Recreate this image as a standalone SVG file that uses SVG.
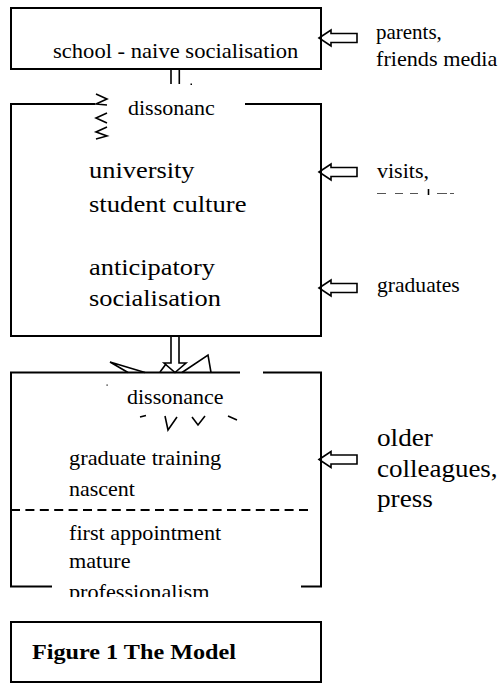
<svg xmlns="http://www.w3.org/2000/svg" width="503" height="684" viewBox="0 0 503 684">
<style>
.box{fill:none;stroke:#000;stroke-width:2}
.ln{fill:none;stroke:#000;stroke-width:1.6;stroke-linejoin:miter}
.arr{fill:#fff;stroke:#000;stroke-width:1.6;stroke-linejoin:miter}
.dash{fill:none;stroke:#000;stroke-width:2;stroke-dasharray:9 5.4}
.frag{fill:none;stroke:#555;stroke-width:1.2}
text{fill:#000}
.s{font-size:20px}
.l{font-size:24px}
.r{font-size:25px}
.b{font-size:22px;font-weight:bold}
</style>
<defs>
<clipPath id="cut"><rect x="0" y="0" width="503" height="597"/></clipPath>
</defs>
<rect width="503" height="684" fill="#fff"/>

<g id="connectors">
<path class="ln" d="M171,69 V84 M179.3,69 V84"/>
<rect x="190.5" y="83.5" width="1.5" height="1.5" fill="#000"/>
<polygon class="arr" points="171,336 179,336 179,363 186,363 175,372.5 164,363 171,363"/>
<polygon class="arr" points="319,38 331,30 331,33.5 357,33.5 357,42.5 331,42.5 331,46"/>
<polygon class="arr" points="319,172 331,164 331,167.5 357,167.5 357,176.5 331,176.5 331,180"/>
<polygon class="arr" points="319,288 331,280 331,283.5 357,283.5 357,292.5 331,292.5 331,296"/>
<polygon class="arr" points="319,459.5 331,451.5 331,455 357,455 357,464 331,464 331,467.5"/>
</g>

<g id="school" font-family="Times New Roman">
<rect class="box" x="11" y="8" width="310" height="61"/>
<text class="s" font-family="Times New Roman" transform="matrix(1.13,0,0,1,53,58)">school - naive socialisation</text>
</g>

<g id="parents">
<text class="s" font-family="Times New Roman" transform="matrix(1.05,0,0,1,376,39)">parents,</text>
<text class="s" font-family="Times New Roman" transform="matrix(1.11,0,0,1,376,66)">friends media</text>
</g>

<g id="university">
<path class="box" d="M95,104 H11 V336 H321 V104 H245"/>
<path class="ln" d="M96,94 L107,99 L96,104 L107,105 M107,113 L96,118 L107,123 M107,127 L96,132 L107,136 L96,139"/>
<text class="s" font-family="Times New Roman" transform="matrix(1.1,0,0,1,128,115)">dissonanc</text>
<text class="l" font-family="Times New Roman" transform="matrix(1.1,0,0,1,89,178)">university</text>
<text class="l" font-family="Times New Roman" transform="matrix(1.11,0,0,1,89,212)">student culture</text>
<text class="l" font-family="Times New Roman" transform="matrix(1.1,0,0,1,89,275)">anticipatory</text>
<text class="l" font-family="Times New Roman" transform="matrix(1.1,0,0,1,89,306)">socialisation</text>
</g>

<g id="visits">
<text class="s" font-family="Times New Roman" transform="matrix(1.1,0,0,1,377,178)">visits,</text>
<path class="frag" d="M377,193.5 H386 M395,193.5 H403 M410,193.5 H418 M437,193.5 H447 M450,193.5 H454"/>
<path class="ln" d="M428.5,189 V195"/>
</g>

<g id="graduates">
<text class="s" font-family="Times New Roman" transform="matrix(1.08,0,0,1,377,292)">graduates</text>
</g>

<g id="professional">
<path class="box" d="M240,372.5 H11 V586.5 H52 M301,586.5 H321 V372.5 H263"/>
<path class="ln" d="M128,372.5 L110,362 L145,372.5 M160,372 L166,364 M182,372.5 L208,355 L211,372.5"/>
<path class="ln" d="M140,417 L146,415.5 M165,416 L168,430 L177,417 M192,417 L198,425 L205,416 M228,416 L237,420"/>
<rect x="106.5" y="384.5" width="1.2" height="1.2" fill="#000"/>
<text class="s" font-family="Times New Roman" transform="matrix(1.1,0,0,1,127,404)">dissonance</text>
<text class="s" font-family="Times New Roman" transform="matrix(1.12,0,0,1,69,465)">graduate training</text>
<text class="s" font-family="Times New Roman" transform="matrix(1.1,0,0,1,69,496)">nascent</text>
<path class="dash" d="M11,510 H313"/>
<text class="s" font-family="Times New Roman" transform="matrix(1.11,0,0,1,69,540)">first appointment</text>
<text class="s" font-family="Times New Roman" transform="matrix(1.11,0,0,1,69,568)">mature</text>
<g clip-path="url(#cut)">
<text class="s" font-family="Times New Roman" transform="matrix(1.11,0,0,1,69,599)">professionalism</text>
</g>
</g>

<g id="colleagues">
<text class="r" font-family="Times New Roman" transform="matrix(1.09,0,0,1,377,446)">older</text>
<text class="r" font-family="Times New Roman" transform="matrix(1.08,0,0,1,377,477)">colleagues,</text>
<text class="r" font-family="Times New Roman" transform="matrix(1.09,0,0,1,377,507)">press</text>
</g>

<g id="caption">
<rect class="box" x="11" y="622" width="310" height="60"/>
<text class="b" font-family="Times New Roman" transform="matrix(1.1,0,0,1,32,659)">Figure 1 The Model</text>
</g>
</svg>
